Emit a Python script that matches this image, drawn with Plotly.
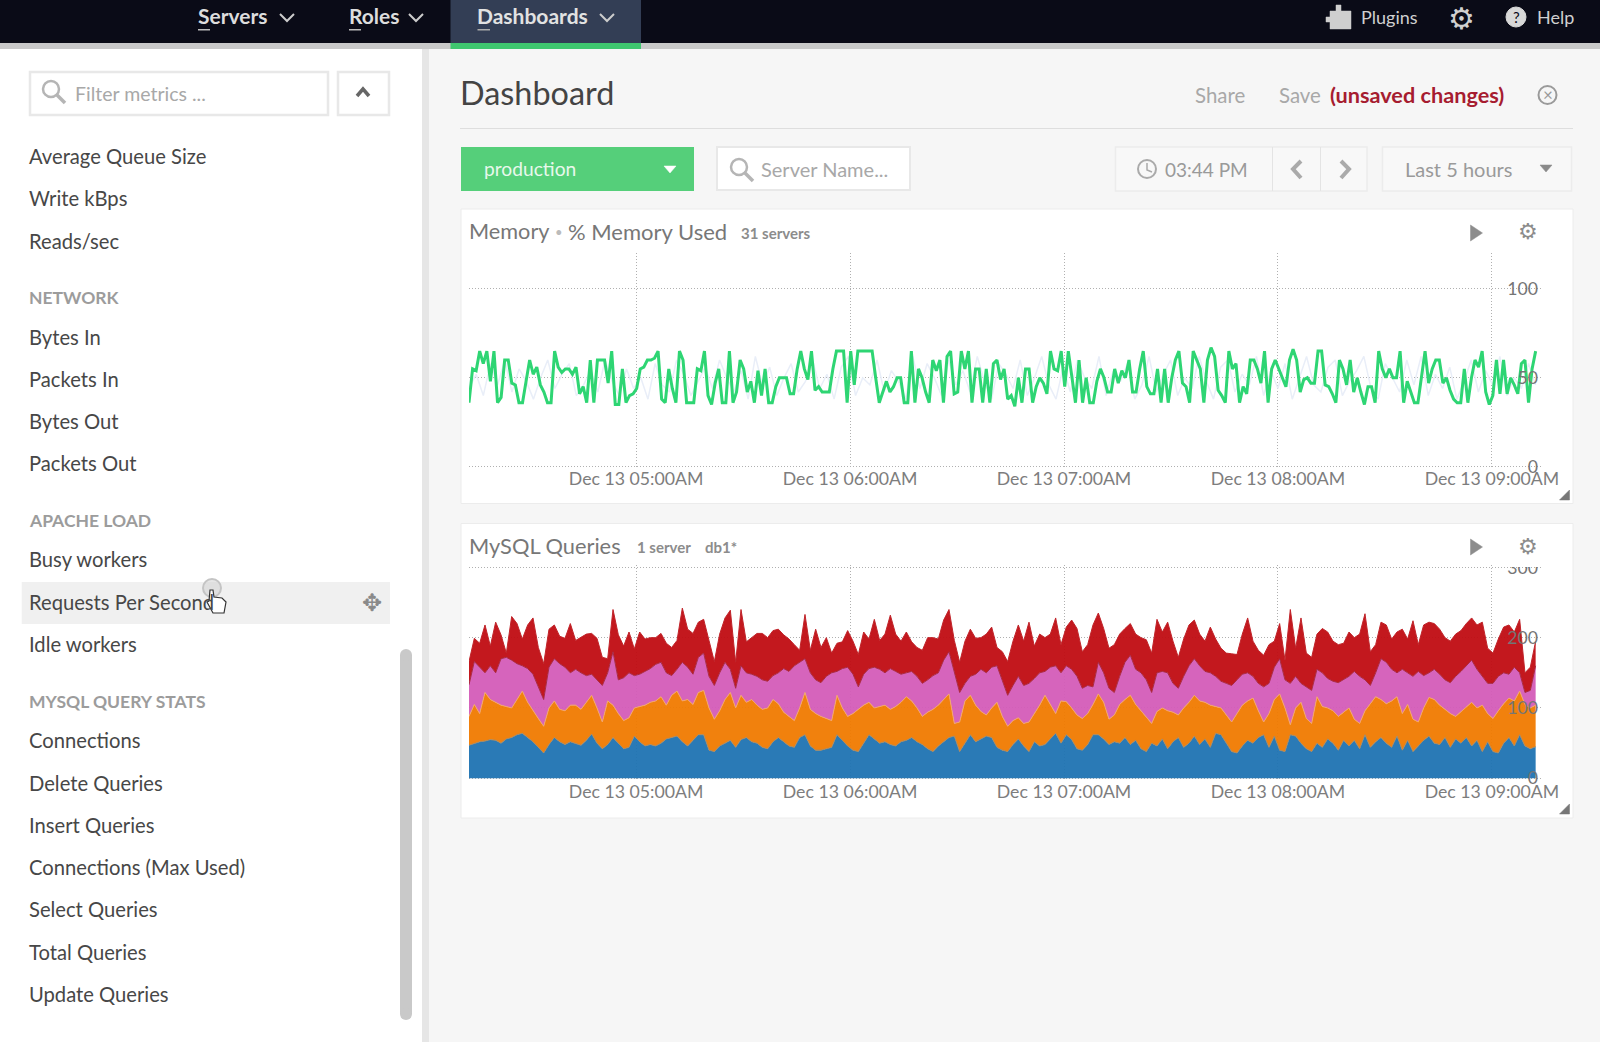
import pandas as pd
from plotly.subplots import make_subplots
import plotly.graph_objects as go

W, H = 1600, 1042
FONT = "Lato"

# Dane wykresu Memory (% Memory Used)
memory_used = [
    36, 55, 54, 65, 58, 65, 48, 65, 36, 39, 60, 60, 47, 46, 36, 36, 48, 60, 52, 56,
    46, 42, 36, 36, 65, 56, 53, 55, 55, 52, 56, 41, 45, 36, 60, 36, 60, 60, 60, 47,
    65, 35, 35, 55, 36, 40, 41, 44, 55, 56, 60, 60, 61, 65, 38, 36, 55, 44, 36, 65,
    60, 36, 36, 36, 55, 54, 65, 40, 35, 47, 55, 36, 36, 65, 36, 42, 60, 55, 42, 48,
    36, 54, 40, 55, 36, 36, 45, 50, 50, 50, 41, 41, 55, 65, 55, 49, 65, 43, 45, 42,
    42, 42, 55, 65, 65, 65, 36, 65, 46, 65, 65, 65, 65, 65, 50, 36, 42, 48, 42, 45,
    50, 50, 36, 36, 65, 36, 55, 50, 42, 36, 60, 54, 60, 36, 62, 65, 41, 42, 65, 55,
    65, 36, 55, 55, 36, 55, 36, 58, 60, 49, 55, 38, 40, 34, 50, 36, 55, 55, 36, 45,
    50, 47, 41, 65, 55, 54, 65, 45, 65, 50, 36, 60, 36, 50, 36, 36, 48, 55, 50, 42,
    42, 55, 47, 54, 50, 60, 42, 42, 55, 65, 45, 41, 41, 55, 36, 55, 36, 50, 60, 65,
    47, 45, 36, 65, 60, 55, 36, 60, 67, 62, 43, 40, 36, 65, 55, 58, 36, 45, 41, 60,
    60, 55, 47, 65, 36, 55, 60, 55, 50, 45, 60, 66, 60, 42, 49, 50, 47, 47, 65, 65,
    46, 45, 41, 36, 60, 55, 46, 60, 42, 50, 42, 35, 45, 45, 36, 65, 55, 50, 55, 50,
    50, 65, 36, 48, 42, 36, 36, 50, 65, 47, 55, 60, 60, 47, 50, 43, 38, 36, 36, 55,
    36, 50, 60, 56, 65, 42, 35, 40, 60, 41, 60, 41, 50, 46, 41, 58, 60, 36, 55, 65,
]
memory_other = [
    44, 52, 40, 58, 46, 60, 42, 55, 48, 38, 50, 60, 44, 52, 58, 40, 46, 54, 42, 60,
    48, 40, 55, 44, 50, 38, 58, 46, 42, 60, 52, 40, 48, 56, 44, 60, 50, 42, 54, 38,
    62, 46, 56, 40, 50, 58, 42, 48, 60, 44, 52, 38, 56, 62, 40, 50, 46, 60, 42, 54,
    48, 38, 62, 44, 58, 50, 40, 60, 46, 54, 42, 62, 48, 38, 58, 52, 44, 60, 40, 50,
    62, 46, 38, 56, 42, 60, 50, 44, 62, 40, 54, 48, 58, 38, 46, 62, 42, 52, 60, 40,
    50, 44, 62, 48, 38, 56, 60, 42, 52, 46, 62, 40, 54, 44, 58, 38, 50, 62, 46, 42,
    56, 60, 40, 48, 54, 62, 44, 38, 58, 50, 42, 60, 46, 62, 40, 52, 44, 56, 38, 48,
    60, 42, 54, 46, 62, 40, 50, 44, 58, 46,
]

# Dane wykresu MySQL Queries (górne krawędzie warstw)
blue_top = [
    47, 50, 52, 53, 55, 54, 50, 56, 58, 62, 64, 58, 52, 44, 36, 48, 58, 52, 48, 52,
    50, 47, 54, 63, 50, 42, 48, 58, 50, 42, 44, 60, 52, 46, 48, 46, 50, 56, 58, 60,
    52, 46, 54, 62, 62, 40, 38, 46, 50, 54, 44, 55, 58, 52, 50, 44, 42, 52, 58, 52,
    46, 44, 58, 62, 46, 40, 40, 42, 44, 62, 54, 46, 40, 38, 50, 62, 56, 50, 52, 48,
    46, 52, 54, 58, 52, 48, 42, 38, 46, 52, 58, 60, 38, 50, 62, 52, 56, 60, 58, 44,
    40, 38, 48, 56, 46, 38, 52, 46, 48, 56, 64, 50, 62, 55, 42, 40, 48, 62, 62, 56,
    48, 52, 50, 58, 48, 54, 42, 38, 50, 46, 56, 42, 52, 58, 44, 50, 60, 48, 56, 44,
    64, 62, 50, 38, 36, 46, 54, 50, 58, 62, 44, 60, 40, 38, 62, 60, 50, 42, 38, 50,
    44, 56, 50, 40, 54, 46, 54, 42, 62, 44, 52, 58, 50, 44, 60, 40, 54, 38, 46, 54,
    60, 50, 48, 58, 44, 56, 50, 58, 46, 54, 38, 52, 38, 36, 50, 58, 46, 62, 46, 42,
    45,
]
orange_top = [
    88, 105, 92, 122, 112, 108, 104, 102, 100, 112, 124, 108, 96, 85, 74, 100, 110, 98, 96, 104,
    104, 98, 108, 118, 100, 80, 110, 104, 92, 82, 86, 100, 102, 104, 108, 110, 116, 104, 118, 124,
    110, 112, 105, 122, 125, 100, 84, 96, 112, 122, 100, 118, 108, 112, 104, 98, 100, 112, 106, 94,
    88, 82, 100, 122, 98, 92, 88, 85, 82, 118, 100, 88, 92, 98, 104, 108, 100, 102, 104, 98,
    102, 108, 116, 110, 100, 88, 94, 98, 104, 112, 120, 78, 80, 110, 118, 104, 95, 90, 100, 108,
    88, 74, 82, 86, 78, 80, 92, 104, 118, 105, 92, 110, 109, 100, 90, 85, 92, 105, 120, 108,
    84, 90, 105, 112, 118, 105, 96, 88, 78, 95, 100, 96, 94, 90, 100, 108, 118, 110, 108, 104,
    102, 100, 90, 80, 92, 104, 110, 114, 96, 80, 92, 112, 120, 100, 76, 100, 108, 85, 78, 116,
    102, 100, 96, 88, 94, 100, 84, 78, 96, 106, 116, 112, 106, 110, 116, 92, 105, 84, 80, 100,
    115, 112, 104, 98, 92, 88, 95, 102, 108, 100, 104, 92, 85, 96, 106, 114, 110, 124, 105, 100,
    104,
]
pink_top = [
    133, 166, 158, 150, 160, 150, 170, 172, 168, 163, 160, 156, 148, 130, 112, 158, 170, 163, 158, 150,
    155, 150, 146, 148, 140, 132, 150, 180, 140, 143, 150, 146, 148, 152, 156, 162, 165, 150, 146, 155,
    165, 158, 148, 172, 178, 145, 132, 150, 165, 155, 128, 160, 150, 148, 145, 140, 138, 146, 150, 156,
    152, 160, 165, 170, 150, 140, 136, 145, 150, 152, 156, 158, 148, 130, 148, 156, 158, 155, 150, 156,
    152, 148, 150, 152, 145, 135, 140, 146, 150, 168, 180, 150, 122, 135, 145, 148, 155, 150, 158, 160,
    140, 118, 132, 145, 132, 135, 142, 150, 152, 158, 160, 150, 160, 155, 145, 128, 132, 130, 165, 150,
    128, 122, 145, 165, 175, 155, 150, 140, 122, 150, 152, 150, 135, 128, 145, 160, 170, 160, 152, 150,
    145, 138, 135, 132, 140, 148, 150, 145, 135, 130, 135, 158, 170, 140, 135, 145, 135, 130, 125, 155,
    150, 142, 138, 136, 140, 145, 152, 145, 140, 132, 150, 170, 165, 155, 150, 155, 150, 145, 152, 146,
    150, 155, 148, 140, 136, 145, 152, 160, 168, 155, 145, 135, 135, 145, 150, 148, 158, 150, 122, 125,
    160,
]
red_top = [
    166, 199, 192, 218, 188, 222, 204, 178, 230, 220, 198, 218, 228, 186, 163, 212, 218, 202, 199, 220,
    196, 201, 205, 206, 199, 172, 170, 240, 204, 188, 208, 184, 208, 198, 200, 200, 206, 192, 186, 196,
    242, 212, 206, 222, 226, 196, 166, 205, 228, 239, 165, 240, 194, 200, 206, 206, 200, 210, 212, 204,
    198, 190, 182, 233, 182, 212, 186, 200, 178, 192, 194, 210, 195, 176, 208, 198, 226, 196, 205, 232,
    205, 195, 208, 194, 186, 182, 200, 200, 198, 225, 240, 196, 165, 195, 212, 199, 200, 205, 215, 186,
    180, 166, 195, 218, 195, 222, 188, 205, 200, 205, 228, 190, 215, 225, 213, 180, 190, 218, 235, 213,
    185, 190, 205, 213, 220, 205, 200, 197, 178, 226, 208, 222, 195, 172, 198, 218, 225, 205, 195, 215,
    198, 185, 178, 177, 176, 205, 228, 195, 182, 175, 190, 195, 220, 168, 240, 185, 228, 178, 172, 205,
    213, 208, 195, 190, 192, 208, 200, 205, 234, 180, 190, 222, 218, 198, 208, 212, 198, 224, 190, 218,
    222, 220, 212, 200, 195, 205, 210, 220, 228, 218, 222, 185, 178, 198, 215, 218, 208, 226, 150, 158,
    195,
]

tick_hours = ["2014-12-13 05:00", "2014-12-13 06:00", "2014-12-13 07:00", "2014-12-13 08:00", "2014-12-13 09:00"]
memory_ticks = [0, 50, 100]
queries_ticks = [0, 100, 200, 300]

sidebar_items = [
    ("Average Queue Size", 156), ("Write kBps", 198), ("Reads/sec", 241),
    ("Bytes In", 337), ("Packets In", 379), ("Bytes Out", 421), ("Packets Out", 463),
    ("Busy workers", 559), ("Requests Per Second", 602), ("Idle workers", 644),
    ("Connections", 740), ("Delete Queries", 783), ("Insert Queries", 825),
    ("Connections (Max Used)", 867), ("Select Queries", 909), ("Total Queries", 952),
    ("Update Queries", 994),
]
sidebar_heads = [("NETWORK", 297), ("APACHE LOAD", 520), ("MYSQL QUERY STATS", 701)]

T_START = "2014-12-13 04:13:09"
T_END = "2014-12-13 09:12:15"
T_AXIS_END = "2014-12-13 09:13:45"

def times(values):
    return pd.date_range(T_START, T_END, periods=len(values))

shapes = []
notes = []

def px(x):
    return x / W

def py(y):
    return 1 - y / H

def rect(x0, y0, x1, y1, fill, line=None, width=1, layer="below"):
    shapes.append(dict(type="rect", xref="paper", yref="paper", x0=px(x0), x1=px(x1), y0=py(y0), y1=py(y1),
                       fillcolor=fill, line=dict(color=line or fill, width=width if line else 0), layer=layer))

def circle(cx, cy, r, fill="rgba(0,0,0,0)", line="#999999", width=2):
    shapes.append(dict(type="circle", xref="paper", yref="paper", x0=px(cx - r), x1=px(cx + r), y0=py(cy - r), y1=py(cy + r),
                       fillcolor=fill, line=dict(color=line, width=width), layer="below"))

def poly(points, line="#999999", width=2, fill=None, close=False, layer="below"):
    d = "M " + " L ".join(f"{px(a):.5f} {py(b):.5f}" for a, b in points)
    if close:
        d += " Z"
    shapes.append(dict(type="path", xref="paper", yref="paper", path=d, fillcolor=fill or "rgba(0,0,0,0)",
                       line=dict(color=line, width=width), layer=layer))

def text(x, y, s, size=19, color="#444444", anchor="left", family=FONT):
    notes.append(dict(xref="paper", yref="paper", x=px(x), y=py(y), text=s, showarrow=False, xanchor=anchor, yanchor="middle",
                      borderpad=0, borderwidth=0, font=dict(family=family, size=size, color=color)))

def search_icon(cx, cy):
    circle(cx, cy, 8, line="#b5b5b5", width=2.5)
    poly([(cx + 6, cy + 6), (cx + 14, cy + 14)], line="#b5b5b5", width=3.5)

def chevron_down(cx, cy, color="#cccccc"):
    poly([(cx - 7, cy - 3), (cx, cy + 4), (cx + 7, cy - 3)], line=color, width=2)

def caret(cx, cy, color):
    poly([(cx - 6, cy - 3), (cx + 6, cy - 3), (cx, cy + 4)], line=color, width=0.5, fill=color, close=True)

def play(cx, cy):
    poly([(cx - 6, cy - 8), (cx + 6, cy), (cx - 6, cy + 8)], line="#8c8c8c", width=0.5, fill="#8c8c8c", close=True)

def handle(cx, cy):
    poly([(cx - 5, cy + 5), (cx + 5, cy - 5), (cx + 5, cy + 5)], line="#777777", width=0.5, fill="#777777", close=True)

# Tło strony
rect(0, 0, W, H, "#f6f6f6")
rect(0, 49, 422, H, "#ffffff")
rect(422, 49, 429, H, "#e6e6e6")
rect(0, 0, W, 43, "#0a0b17")
rect(0, 43, W, 49, "#c9c9c9")
rect(450.5, 0, 641, 43, "#333e55")
rect(450.5, 43, 641, 49, "#3fc76f")

# Górne menu
text(197.5, 16, "<b>Servers</b>", 21, "#dddddd")
rect(198, 29, 210, 30.5, "#bbbbbb")
chevron_down(287, 17)
text(348.5, 16, "<b>Roles</b>", 21, "#dddddd")
rect(349, 29, 361, 30.5, "#bbbbbb")
chevron_down(416, 17)
text(477, 16, "<b>Dashboards</b>", 21, "#e2e2e2")
rect(477.5, 29, 490, 30.5, "#aaaaaa")
chevron_down(607, 17)
poly([(1326, 17), (1330, 17), (1330, 11), (1336, 11), (1336, 5), (1341, 5), (1341, 11), (1351, 11), (1351, 29),
      (1330, 29), (1330, 22), (1326, 22)], line="#cfcfcf", width=0.5, fill="#cfcfcf", close=True)
text(1361, 17, "Plugins", 18, "#d0d0d0")
text(1461, 18, "⚙", 30, "#d0d0d0", "center", "DejaVu Sans")
circle(1516, 17, 10, fill="#d8d8d8", line="#d8d8d8", width=1)
text(1516, 17, "?", 15, "#0a0b17", "center")
text(1537, 17, "Help", 18, "#d0d0d0")

# Panel boczny
rect(30, 72, 328, 115, "#ffffff", "#e8e8e8", 2.5)
rect(338, 72, 389, 115, "#ffffff", "#e8e8e8", 2.5)
search_icon(51, 89)
text(74.5, 93, "Filter metrics ...", 19.5, "#a8a8a8")
poly([(357, 96), (363, 89), (369, 96)], line="#666666", width=3.5)
rect(21.7, 582, 390, 624, "#f0f0f0")
for name, y in sidebar_items:
    text(28.7, y, name, 20.2, "#474747")
for name, y in sidebar_heads:
    text(28.7, y, f"<b>{name}</b>", 17.5, "#9c9c9c")
text(372, 603, "✥", 24, "#8a8a8a", "center", "DejaVu Sans")
rect(400, 655, 412, 1014, "#c9c9c9")
circle(406, 655, 6, fill="#c9c9c9", line="#c9c9c9", width=0)
circle(406, 1014, 6, fill="#c9c9c9", line="#c9c9c9", width=0)

# Nagłówek panelu głównego
text(459.5, 92, "Dashboard", 32.4, "#444444")
rect(460, 128, 1573, 129, "#dedede")
text(1194.5, 95, "Share", 20.4, "#a8a8a8")
text(1278.5, 95, "Save", 20.4, "#a8a8a8")
text(1329.5, 95, "<b>(unsaved changes)</b>", 21.7, "#a61c30")
circle(1547.5, 95, 9, line="#9a9a9a", width=2)
text(1547.5, 95, "×", 17, "#9a9a9a", "center")

# Pasek filtrów
rect(461, 147, 694, 191, "#55cf7a")
text(483.5, 169, "production", 19.2, "#e8f8ec")
caret(670, 169, "#ffffff")
rect(717, 147, 910, 190, "#ffffff", "#e8e8e8", 2)
search_icon(739, 167)
text(761, 169, "Server Name...", 20, "#a8a8a8")
rect(1115.5, 147, 1367, 191, "#f8f8f8", "#ececec", 1.5)
rect(1272, 147, 1273, 191, "#e4e4e4")
rect(1320, 147, 1321, 191, "#e4e4e4")
circle(1147, 169, 9, line="#aaaaaa", width=2)
poly([(1147, 163), (1147, 170), (1152, 172)], line="#aaaaaa", width=1.5)
text(1165, 169.5, "03:44 PM", 19, "#9a9a9a")
poly([(1301, 161), (1293, 169), (1301, 178)], line="#aaaaaa", width=4)
poly([(1341, 161), (1349, 169), (1341, 178)], line="#aaaaaa", width=4)
rect(1382.5, 147, 1571.5, 191, "#f8f8f8", "#ececec", 1.5)
text(1405, 169, "Last 5 hours", 20, "#9a9a9a")
caret(1546, 168, "#8a8a8a")

# Panele wykresów
rect(461, 209, 1573, 503.5, "#ffffff", "#ececec", 1)
rect(461, 523.5, 1573, 818, "#ffffff", "#ececec", 1)
text(468.8, 231, "Memory", 21.7, "#777777")
text(555, 232, "•", 13, "#bbbbbb")
text(568, 231, "% Memory Used", 22, "#777777")
text(740.5, 233, "<b>31 servers</b>", 15, "#8c8c8c")
play(1476.5, 233)
text(1528, 232, "⚙", 22, "#8c8c8c", "center", "DejaVu Sans")
handle(1564.5, 495)
text(468.8, 545, "MySQL Queries", 21.8, "#777777")
text(637, 547, "<b>1 server</b>", 15, "#8c8c8c")
text(705, 547, "<b>db1*</b>", 15, "#8c8c8c")
play(1476.5, 547)
text(1528, 546, "⚙", 22, "#8c8c8c", "center", "DejaVu Sans")
handle(1564.5, 809)

# Przycięcie etykiety 300 na górze wykresu
rect(1500, 555, 1545, 567, "#ffffff", layer="above")

# Kursor
circle(212, 588, 9, fill="rgba(205,205,205,0.5)", line="#c4c4c4", width=2)
poly([(210, 590), (213, 590), (214, 597), (222, 598), (226, 602), (224, 613), (213, 613), (207, 602), (209, 601)],
     line="#333333", width=1.2, fill="#ffffff", close=True, layer="above")

# Wykresy
fig = make_subplots(rows=2, cols=1)

fig.add_trace(go.Scatter(x=times(memory_other), y=memory_other, mode="lines",
                         line=dict(color="#e9eef8", width=1.5)), row=1, col=1)
fig.add_trace(go.Scatter(x=times(memory_used), y=memory_used, mode="lines",
                         line=dict(color="#2ed573", width=3)), row=1, col=1)

stack = [
    (blue_top, "rgba(31,115,178,0.95)", "#a38a68", "tozeroy"),
    (orange_top, "rgba(240,122,0,0.95)", "#f2a76a", "tonexty"),
    (pink_top, "rgba(212,92,184,0.95)", "#a82a45", "tonexty"),
    (red_top, "rgba(192,12,18,0.95)", "#c0242a", "tonexty"),
]
for values, fill_color, edge, fill_mode in stack:
    fig.add_trace(go.Scatter(x=times(values), y=values, mode="lines", fill=fill_mode, fillcolor=fill_color,
                             line=dict(color=edge, width=1)), row=2, col=1)

grid = dict(showgrid=True, gridcolor="#b0b0b0", gridwidth=1, griddash="1px,2px", zeroline=False, showline=False, ticklen=0, automargin=False)
x_axis = dict(type="date", range=[T_START, T_AXIS_END], tickvals=tick_hours, tickformat="%b %d %I:%M%p", tickangle=0,
              tickfont=dict(family=FONT, size=17.7, color="#7d7d7d"), **grid)
y_axis = dict(side="right", ticklabelposition="inside", ticklabeloverflow="allow",
              tickfont=dict(family=FONT, size=17.7, color="#757575"), **grid)

fig.update_xaxes(domain=[px(469), px(1541)], **x_axis)
fig.update_xaxes(ticklabelstandoff=-2, row=1, col=1)
fig.update_xaxes(ticklabelstandoff=-1, row=2, col=1)
fig.update_yaxes(**y_axis)
# zakresy lekko poszerzone, żeby linie siatki przy 0 i 300 nie znikały
fig.update_yaxes(domain=[py(468.5), py(253.3)], range=[-1, 120], tickvals=memory_ticks, row=1, col=1)
fig.update_yaxes(domain=[py(780.4), py(565.2)], range=[-3, 303], tickvals=queries_ticks, row=2, col=1)

fig.update_layout(
    width=W,
    height=H,
    autosize=False,
    margin=dict(l=0, r=0, t=0, b=0, pad=0, autoexpand=False),
    paper_bgcolor="#f6f6f6",
    plot_bgcolor="rgba(0,0,0,0)",
    showlegend=False,
    hovermode=False,
    shapes=shapes,
    annotations=notes,
)

fig.write_html("out.html", config=dict(displayModeBar=False, responsive=False),
               post_script="document.body.style.margin='0';document.body.style.overflow='hidden';")
